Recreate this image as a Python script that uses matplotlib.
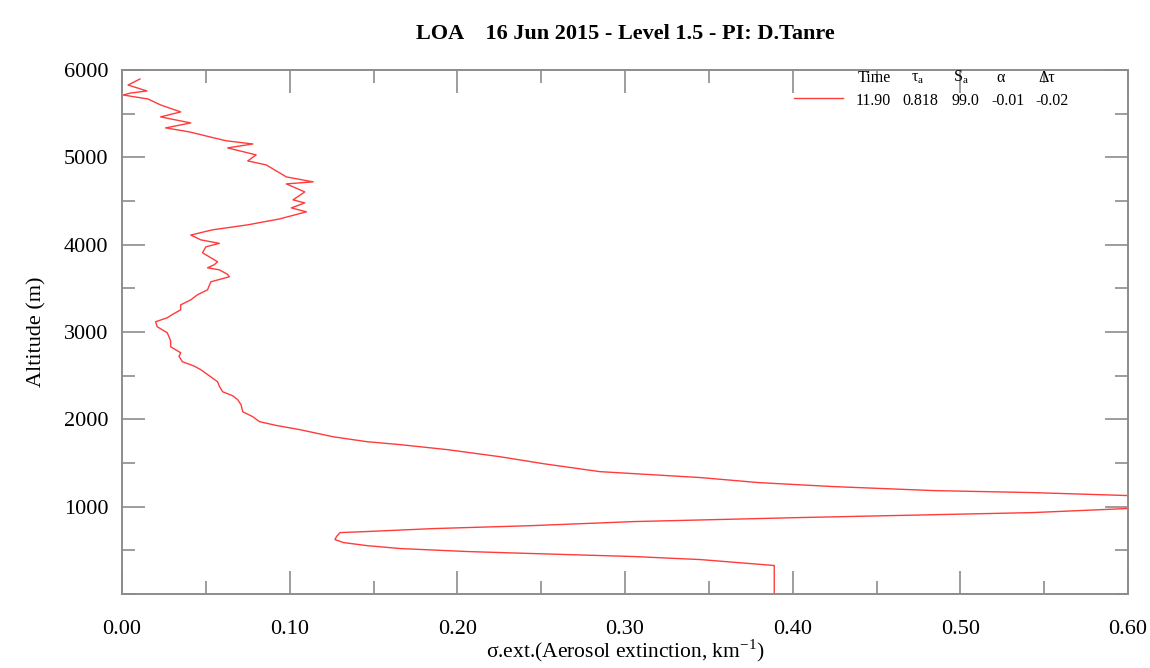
import matplotlib
matplotlib.use("Agg")
import matplotlib.pyplot as plt
import numpy as np
from matplotlib.ticker import MultipleLocator, FormatStrFormatter

plt.rcParams["font.family"] = ["Liberation Serif", "DejaVu Serif"]
plt.rcParams["mathtext.fontset"] = "stix"

# extinction profile (altitude in m, extinction in km-1)
altitude = [
    0, 326, 394, 429, 463, 486, 520, 554, 589, 623, 660, 703, 715, 749, 783,
    829, 875, 932, 978, 1030, 1080, 1127, 1161, 1184, 1230, 1275, 1333, 1401,
    1490, 1573, 1653, 1710, 1744, 1800, 1882, 1930, 1973, 2030, 2087, 2167,
    2225, 2270, 2316, 2380, 2430, 2500, 2568, 2610, 2660, 2720, 2762, 2831,
    2900, 2991, 3060, 3117, 3163, 3200, 3254, 3311, 3368, 3426, 3483, 3530,
    3575, 3632, 3660, 3712, 3735, 3770, 3804, 3850, 3907, 3975, 4015, 4055,
    4110, 4170, 4227, 4295, 4376, 4421, 4478, 4513, 4604, 4696, 4719, 4776,
    4822, 4913, 4959, 5028, 5108, 5153, 5190, 5222, 5292, 5337, 5394, 5463,
    5520, 5600, 5668, 5714, 5737, 5760, 5828, 5897,
]
extinction = [
    0.389, 0.389, 0.345, 0.305, 0.245, 0.206, 0.166, 0.146, 0.132, 0.127, 0.128,
    0.130, 0.146, 0.186, 0.245, 0.305, 0.404, 0.543, 0.599, 0.660, 0.640, 0.600,
    0.543, 0.484, 0.424, 0.380, 0.345, 0.285, 0.252, 0.225, 0.194, 0.166, 0.146,
    0.126, 0.106, 0.092, 0.082, 0.078, 0.072, 0.071, 0.069, 0.066, 0.060, 0.058,
    0.057, 0.052, 0.047, 0.043, 0.036, 0.034, 0.035, 0.029, 0.029, 0.027, 0.021,
    0.020, 0.027, 0.030, 0.035, 0.035, 0.041, 0.045, 0.051, 0.052, 0.053, 0.064,
    0.063, 0.058, 0.051, 0.055, 0.057, 0.053, 0.048, 0.050, 0.058, 0.047, 0.041,
    0.054, 0.075, 0.094, 0.110, 0.101, 0.109, 0.102, 0.109, 0.098, 0.114, 0.098,
    0.094, 0.086, 0.075, 0.080, 0.063, 0.078, 0.062, 0.055, 0.040, 0.026, 0.041,
    0.023, 0.035, 0.023, 0.0155, 0.0006, 0.0054, 0.0149, 0.0036, 0.0107,
]

legend_headers = ["Time", r"τ$_\mathregular{a}$", r"S$_\mathregular{a}$", "α", "Δτ"]
legend_values = ["11.90", "0.818", "99.0", "-0.01", "-0.02"]

line_color = "#ff3b3b"
spine_color = "#8c8c8c"

fig = plt.figure(figsize=(11.5, 6.68), dpi=100)
ax = fig.add_axes([0.1061, 0.1108, 0.8748, 0.7844])

line, = ax.plot(extinction, altitude, color=line_color, lw=1.0)

ax.set_xlim(0, 0.6)
ax.set_ylim(0, 6000)
ax.xaxis.set_major_locator(MultipleLocator(0.1))
ax.xaxis.set_minor_locator(MultipleLocator(0.05))
ax.xaxis.set_major_formatter(FormatStrFormatter("%.2f"))
ax.set_yticks(np.arange(1000, 6001, 1000))
ax.yaxis.set_minor_locator(MultipleLocator(500))

ax.tick_params(which="both", direction="in", top=True, right=True,
               color=spine_color, width=1.2, labelsize=16)
ax.tick_params(which="major", length=16.5)
ax.tick_params(which="minor", length=9.5)
ax.tick_params(axis="x", which="major", pad=19)
ax.tick_params(axis="y", which="major", pad=10)
for s in ax.spines.values():
    s.set_color(spine_color)
    s.set_linewidth(1.4)

ax.set_title("LOA    16 Jun 2015 - Level 1.5 - PI: D.Tanre",
             fontsize=16, fontweight="bold", pad=22)
ax.set_xlabel(r"σ.ext.(Aerosol extinction, km$^{\mathregular{-1}}$)", fontsize=15.5, labelpad=-1)
ax.set_ylabel("Altitude (m)", fontsize=16, labelpad=12)

# legend block: header row and values row
header_x = [0.7475, 0.791, 0.834, 0.873, 0.919]
value_x = [0.7465, 0.794, 0.838, 0.881, 0.924]
for hx, h in zip(header_x, legend_headers):
    ax.text(hx, 0.985, h, transform=ax.transAxes, ha="center", va="center", fontsize=11.5)
for vx, v in zip(value_x, legend_values):
    ax.text(vx, 0.941, v, transform=ax.transAxes, ha="center", va="center", fontsize=11.5)
ax.legend([line], [""], loc="center left", bbox_to_anchor=(0.668, 0.943),
          frameon=False, handlelength=3.2, handletextpad=0, borderpad=0,
          borderaxespad=0, fontsize=11)

fig.savefig("out.png", dpi=100)
